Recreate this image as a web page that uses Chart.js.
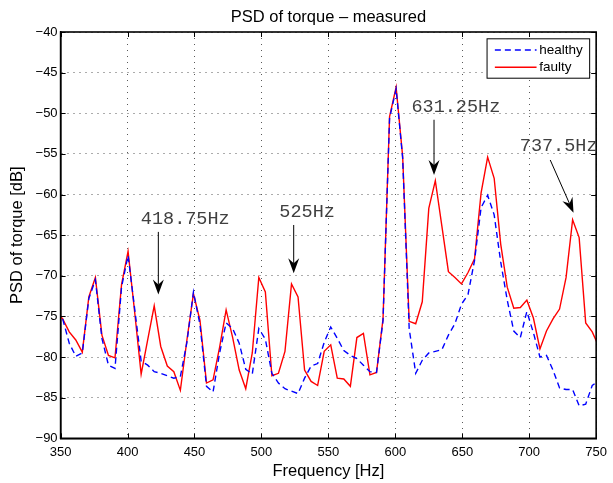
<!DOCTYPE html>
<html><head><meta charset="utf-8">
<script src="https://cdn.jsdelivr.net/npm/chart.js@4"></script>
<style>html,body{margin:0;padding:0;background:#fff}#wrap{width:613px;height:483px}</style>
</head><body><div id="wrap"><canvas id="c" width="613" height="483"></canvas></div>
<script>
const freqs = [346.68, 351.56, 356.45, 361.33, 366.21, 371.09, 375.98, 380.86, 385.74, 390.63,
  395.51, 400.39, 405.27, 410.16, 415.04, 419.92, 424.80, 429.69, 434.57, 439.45,
  444.34, 449.22, 454.10, 458.98, 463.87, 468.75, 473.63, 478.52, 483.40, 488.28,
  493.16, 498.05, 502.93, 507.81, 512.70, 517.58, 522.46, 527.34, 532.23, 537.11,
  541.99, 546.88, 551.76, 556.64, 561.52, 566.41, 571.29, 576.17, 581.05, 585.94,
  590.82, 595.70, 600.59, 605.47, 610.35, 615.23, 620.12, 625.00, 629.88, 634.77,
  639.65, 644.53, 649.41, 654.30, 659.18, 664.06, 668.95, 673.83, 678.71, 683.59,
  688.48, 693.36, 698.24, 703.13, 708.01, 712.89, 717.77, 722.66, 727.54, 732.42,
  737.30, 742.19, 747.07, 751.95];
const faulty = [-74.4, -75.3, -76.9, -77.9, -79.4, -72.6, -70.2, -77.3, -79.8, -80.1,
  -71.1, -67.0, -74.4, -82.1, -77.9, -73.7, -78.7, -81.1, -81.8, -84.1,
  -77.9, -72.2, -75.5, -83.2, -82.8, -78.8, -74.2, -77.6, -81.6, -83.9,
  -79.5, -70.2, -72.0, -82.3, -82.0, -79.3, -71.0, -72.6, -81.6, -83.0,
  -83.5, -79.3, -78.5, -82.6, -82.7, -83.6, -77.6, -77.1, -82.2, -81.9,
  -75.3, -50.4, -46.8, -55.3, -75.6, -75.9, -73.2, -61.7, -58.3, -63.9,
  -69.5, -70.2, -71.0, -69.6, -67.9, -59.8, -55.4, -58.0, -66.1, -71.4,
  -74.0, -73.9, -73.0, -75.2, -79.0, -76.8, -75.3, -74.1, -70.2, -63.1,
  -65.3, -75.8, -76.9, -78.7];
const healthy = [-74.4, -75.3, -78.3, -79.9, -79.5, -72.8, -70.5, -77.7, -81.0, -81.4,
  -71.4, -67.5, -74.0, -80.5, -81.0, -81.8, -82.0, -82.3, -82.6, -82.4,
  -78.2, -72.0, -76.0, -83.6, -84.3, -79.5, -75.8, -76.5, -78.3, -81.5,
  -82.1, -76.5, -77.8, -82.0, -83.2, -83.9, -84.2, -84.5, -82.6, -81.1,
  -80.8, -78.2, -76.3, -77.7, -79.2, -79.8, -80.2, -81.0, -81.8, -81.9,
  -75.5, -50.6, -47.0, -55.5, -76.5, -82.0, -80.4, -79.5, -79.3, -79.1,
  -77.3, -75.9, -73.5, -72.3, -68.1, -61.6, -60.1, -62.5, -68.3, -73.0,
  -76.8, -77.6, -74.4, -77.0, -80.0, -79.8, -81.6, -83.8, -84.0, -84.0,
  -86.0, -85.8, -83.5, -82.9];
const xTicks = [350, 400, 450, 500, 550, 600, 650, 700, 750];
const yTicks = [-90, -85, -80, -75, -70, -65, -60, -55, -50, -45, -40];
const seriesNames = ['healthy', 'faulty'];
const noteLabels = ['418.75Hz', '525Hz', '631.25Hz', '737.5Hz'];
const noteTextX = [443.1, 534.1, 645.2, 722.0];
const noteTextY = [-63.0, -62.15, -49.2, -54.1];
const noteFromX = [423.0, 524.1, 628.9, 715.7];
const noteFromY = [-64.6, -63.75, -50.8, -55.75];
const noteToX = [423.0, 524.1, 628.9, 733.1];
const noteToY = [-72.3, -69.7, -57.6, -62.24];

function drawArrow(ctx, x1, y1, x2, y2) {
  const ang = Math.atan2(y2 - y1, x2 - x1), L = 15, W = 5.5, N = 10;
  const c = Math.cos(ang), s = Math.sin(ang);
  const bx = x2 - N * c, by = y2 - N * s;
  ctx.beginPath(); ctx.moveTo(x1, y1); ctx.lineTo(bx, by); ctx.stroke();
  ctx.beginPath();
  ctx.moveTo(x2, y2);
  ctx.lineTo(x2 - L * c + W * s, y2 - L * s - W * c);
  ctx.lineTo(bx, by);
  ctx.lineTo(x2 - L * c - W * s, y2 - L * s + W * c);
  ctx.closePath(); ctx.fill();
}

const framePlugin = {
  id: 'frame',
  afterDatasetsDraw(chart) {
    const {ctx, chartArea: a, scales: {x, y}} = chart;
    ctx.save();
    ctx.strokeStyle = '#000'; ctx.lineWidth = 1;
    const tl = 5;
    ctx.beginPath();
    xTicks.forEach(v => { const px = Math.round(x.getPixelForValue(v)) + 0.5;
      ctx.moveTo(px, a.bottom); ctx.lineTo(px, a.bottom - tl);
      ctx.moveTo(px, a.top); ctx.lineTo(px, a.top + tl); });
    yTicks.forEach(v => { const py = Math.round(y.getPixelForValue(v)) + 0.5;
      ctx.moveTo(a.left, py); ctx.lineTo(a.left + tl, py);
      ctx.moveTo(a.right, py); ctx.lineTo(a.right - tl, py); });
    ctx.stroke();
    ctx.lineWidth = 1.6;
    ctx.strokeRect(a.left, a.top, a.right - a.left, a.bottom - a.top);
    // annotations
    ctx.fillStyle = '#404040';
    ctx.font = "18.5px 'Liberation Mono', 'DejaVu Sans Mono', monospace";
    ctx.textAlign = 'center'; ctx.textBaseline = 'middle';
    noteLabels.forEach((t, i) => {
      ctx.fillText(t, x.getPixelForValue(noteTextX[i]), y.getPixelForValue(noteTextY[i]));
    });
    ctx.strokeStyle = '#000'; ctx.fillStyle = '#000'; ctx.lineWidth = 1;
    noteLabels.forEach((t, i) => {
      drawArrow(ctx, x.getPixelForValue(noteFromX[i]), y.getPixelForValue(noteFromY[i]),
        x.getPixelForValue(noteToX[i]), y.getPixelForValue(noteToY[i]));
    });
    // legend
    const bw = 102.6, bh = 39.4;
    const bx = a.right - 7 - bw, by = a.top + 6.3;
    ctx.fillStyle = '#fff';
    ctx.fillRect(bx, by, bw, bh);
    ctx.lineWidth = 1; ctx.strokeStyle = '#000';
    ctx.strokeRect(bx + 0.5, by + 0.5, bw, bh);
    ctx.font = "13.5px 'Liberation Sans', Arial, sans-serif";
    ctx.textAlign = 'left'; ctx.textBaseline = 'middle';
    chart.data.datasets.forEach((ds, i) => {
      const ry = by + 11.7 + i * 17.3;
      ctx.save();
      ctx.strokeStyle = ds.borderColor; ctx.lineWidth = ds.borderWidth;
      ctx.setLineDash(ds.borderDash || []);
      ctx.beginPath(); ctx.moveTo(bx + 8.3, ry); ctx.lineTo(bx + 50, ry); ctx.stroke();
      ctx.restore();
      ctx.fillStyle = '#000';
      ctx.fillText(ds.label, bx + 52.6, ry);
    });
    ctx.restore();
  }
};

const toPts = arr => freqs.map((f, i) => ({x: f, y: arr[i]}));
Chart.defaults.font.family = "'Liberation Sans', Arial, sans-serif";
Chart.defaults.color = '#000';
new Chart(document.getElementById('c'), {
  type: 'line',
  data: {
    datasets: [
      {label: seriesNames[0], data: toPts(healthy), borderColor: '#0000ff', borderDash: [6, 4], borderWidth: 1.4,
        pointRadius: 0, tension: 0, fill: false},
      {label: seriesNames[1], data: toPts(faulty), borderColor: '#ff0000', borderWidth: 1.4,
        pointRadius: 0, tension: 0, fill: false}
    ]
  },
  options: {
    responsive: false, animation: false, devicePixelRatio: 1,
    layout: {padding: {left: 0, right: 11.7, top: 0, bottom: 0}},
    plugins: {
      legend: {display: false}, tooltip: {enabled: false},
      title: {display: true, text: 'PSD of torque \u2013 measured', color: '#000', fullSize: false,
        font: {size: 16.5, weight: 'normal'}, padding: {top: 8, bottom: 4.2}}
    },
    scales: {
      x: {
        type: 'linear', min: 350, max: 750,
        afterBuildTicks: s => { s.ticks = xTicks.map(v => ({value: v})); },
        afterFit: s => { s.height = 44.7; },
        ticks: {font: {size: 13}, padding: 6, maxRotation: 0, autoSkip: false},
        grid: {color: 'rgba(0,0,0,0.65)', lineWidth: 1, drawTicks: false},
        border: {display: true, color: '#000', width: 1.5, dash: [1, 5]},
        title: {display: true, text: 'Frequency [Hz]', font: {size: 16.5}, padding: {top: 0, bottom: 2}}
      },
      y: {
        type: 'linear', min: -90, max: -40,
        afterBuildTicks: s => { s.ticks = yTicks.map(v => ({value: v})); },
        afterFit: s => { s.width = 60.6; },
        ticks: {font: {size: 13}, padding: 3, callback: v => String(v).replace('-', '\u2212')},
        grid: {color: 'rgba(0,0,0,0.65)', lineWidth: 1, drawTicks: false},
        border: {display: true, color: '#000', width: 1.5, dash: [1, 5]},
        title: {display: true, text: 'PSD of torque [dB]', font: {size: 16.5}, padding: {top: 8, bottom: 0}}
      }
    }
  },
  plugins: [framePlugin]
});
</script></body></html>
